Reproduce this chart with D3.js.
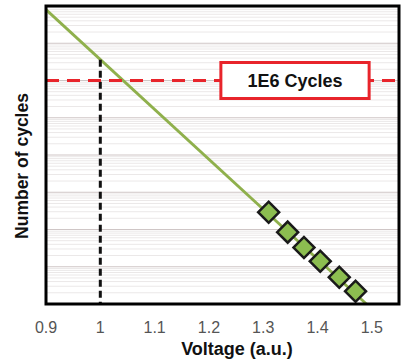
<!DOCTYPE html>
<html>
<head>
<meta charset="utf-8">
<script src="https://cdn.jsdelivr.net/npm/d3@7"></script>
<style>
  body { margin: 0; background: #fff; }
  svg { display: block; font-family: "Liberation Sans", Arial, sans-serif; }
</style>
</head>
<body>
<svg id="chart" width="408" height="361"></svg>
<script>
// data
const xTicks = [0.9, 1, 1.1, 1.2, 1.3, 1.4, 1.5];
const fitLine = [[0.9, 8e7], [1.49, 1]];
const refVoltage = [[1.0, 3.6e6], [1.0, 1]];
const measVoltage = [1.31, 1.345, 1.375, 1.405, 1.44, 1.47];
const measCycles = [290, 85, 33, 14, 5.2, 2.2];
const targetCycles = 1e6;
const targetLabel = "1E6 Cycles";

const svg = d3.select("#chart");
const margin = { top: 6, right: 9, bottom: 57, left: 46 };
const W = 408, H = 361;
const x = d3.scaleLinear().domain([0.9, 1.55]).range([margin.left, W - margin.right]);
const y = d3.scaleLog().domain([1, 1e8]).range([H - margin.bottom, margin.top]);

// gridlines: minor then major (log)
const minor = [];
for (let e = 0; e < 8; e++) for (let m = 2; m <= 9; m++) minor.push(m * Math.pow(10, e));
const major = d3.range(1, 8).map(e => Math.pow(10, e));

svg.append("g").selectAll("line").data(minor).join("line")
  .attr("x1", x(0.9)).attr("x2", x(1.55))
  .attr("y1", d => y(d)).attr("y2", d => y(d))
  .attr("stroke", "#ebe8e8").attr("stroke-width", 1);

svg.append("g").selectAll("line").data(major).join("line")
  .attr("x1", x(0.9)).attr("x2", x(1.55))
  .attr("y1", d => y(d)).attr("y2", d => y(d))
  .attr("stroke", "#cfc6c6").attr("stroke-width", 1.2);

// fit line
const line = d3.line().x(d => x(d[0])).y(d => y(d[1]));
svg.append("path").datum(fitLine)
  .attr("d", line)
  .attr("fill", "none").attr("stroke", "#8fb04c").attr("stroke-width", 2.8);

// vertical reference at 1.0
svg.append("path").datum(refVoltage)
  .attr("d", line)
  .attr("stroke", "#111").attr("stroke-width", 3).attr("stroke-dasharray", "7,4");

// 1E6 target line
svg.append("line")
  .attr("x1", x(0.9)).attr("x2", x(1.55))
  .attr("y1", y(targetCycles)).attr("y2", y(targetCycles))
  .attr("stroke", "#e8242b").attr("stroke-width", 3).attr("stroke-dasharray", "13,8");

// label box
const bx = x(1.222), bw = x(1.495) - x(1.222), bh = 36;
svg.append("rect")
  .attr("x", bx).attr("y", y(targetCycles) - bh / 2)
  .attr("width", bw).attr("height", bh)
  .attr("fill", "#fff").attr("stroke", "#e8242b").attr("stroke-width", 3);
svg.append("text")
  .attr("x", bx + bw / 2).attr("y", y(targetCycles) + 6.5)
  .attr("text-anchor", "middle")
  .attr("font-weight", "bold").attr("font-size", 18).attr("fill", "#111")
  .text(targetLabel);

// measured points
const pts = measVoltage.map((v, i) => [v, measCycles[i]]);
svg.append("g").selectAll("path").data(pts).join("path")
  .attr("transform", d => `translate(${x(d[0])},${y(d[1])}) rotate(45)`)
  .attr("d", d3.symbol(d3.symbolSquare, 220))
  .attr("fill", "#8cbd50").attr("stroke", "#1a1a1a").attr("stroke-width", 2.5);

// plot frame
svg.append("rect")
  .attr("x", x(0.9)).attr("y", y(1e8))
  .attr("width", x(1.55) - x(0.9)).attr("height", y(1) - y(1e8))
  .attr("fill", "none").attr("stroke", "#000").attr("stroke-width", 3);

// x tick labels
svg.append("g").selectAll("text").data(xTicks).join("text")
  .attr("x", d => x(d)).attr("y", 333)
  .attr("text-anchor", "middle")
  .attr("font-size", 16).attr("fill", "#555")
  .text(d => d);

// axis titles
svg.append("text")
  .attr("x", 237).attr("y", 355)
  .attr("text-anchor", "middle")
  .attr("font-weight", "bold").attr("font-size", 18).attr("fill", "#111")
  .text("Voltage (a.u.)");

svg.append("text")
  .attr("transform", "translate(28,166) rotate(-90)")
  .attr("text-anchor", "middle")
  .attr("font-weight", "bold").attr("font-size", 17.5).attr("fill", "#111")
  .text("Number of cycles");
</script>
</body>
</html>
